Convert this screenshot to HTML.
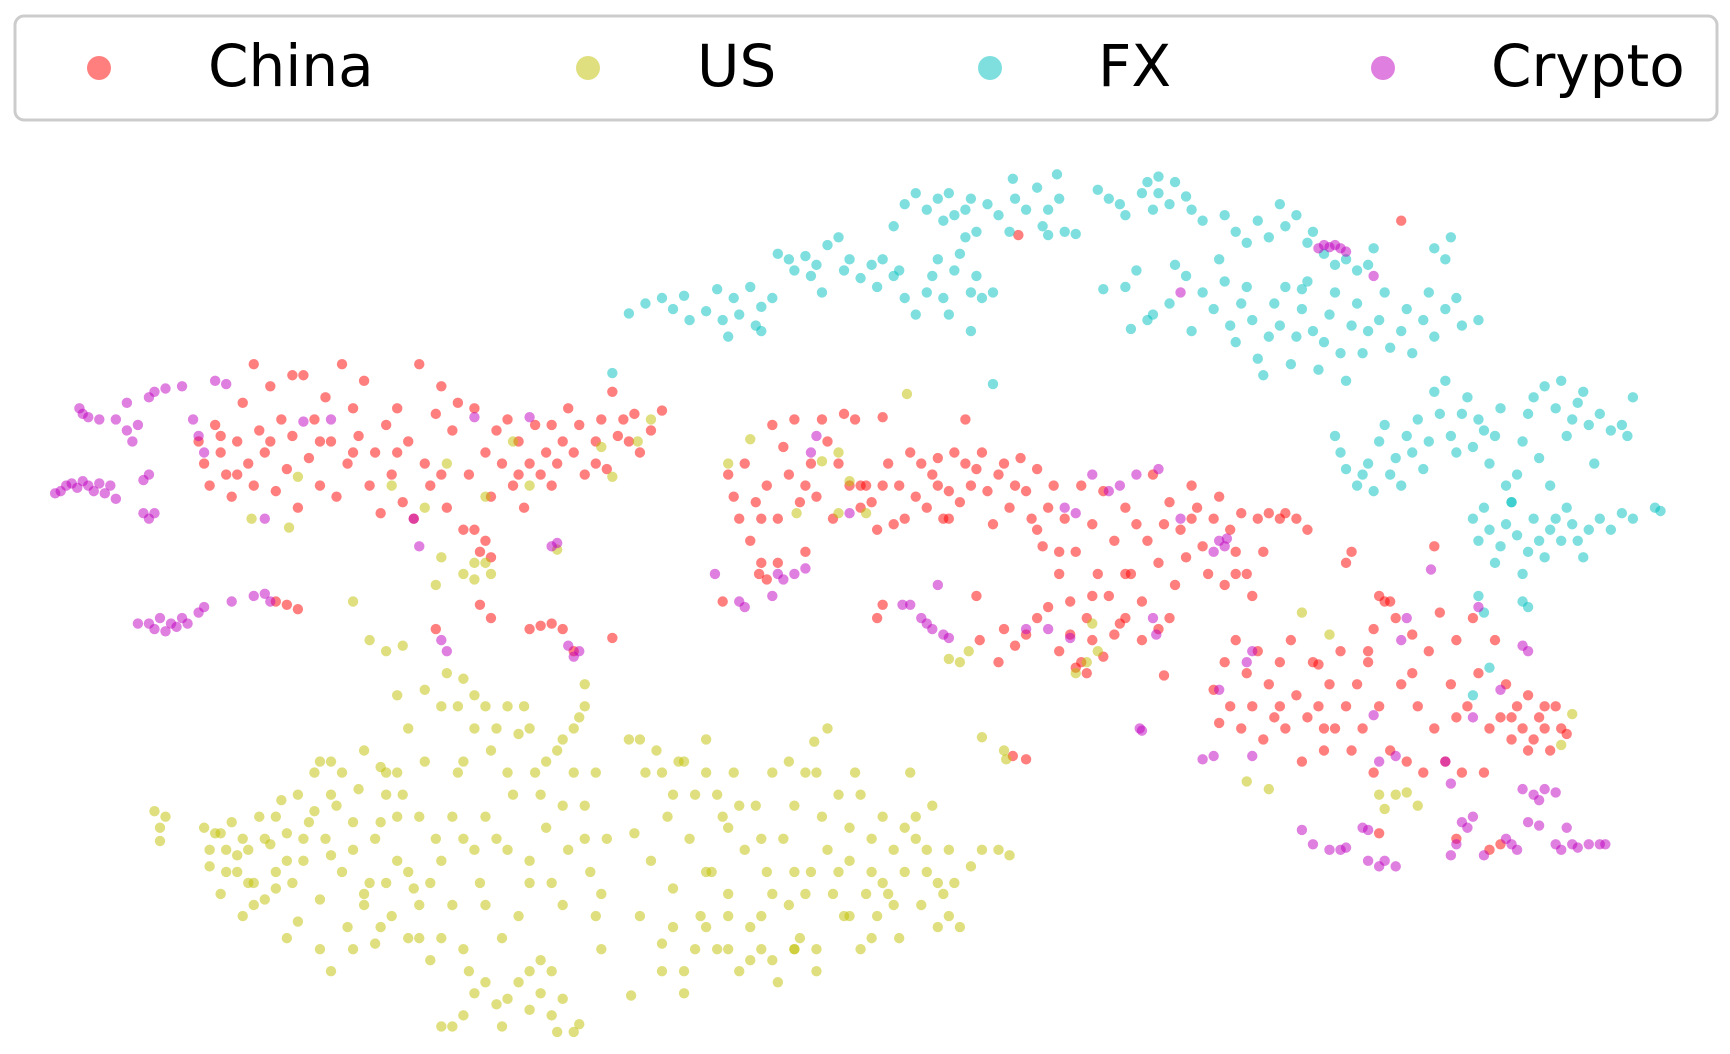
<!DOCTYPE html>
<html><head><meta charset="utf-8"><style>
html,body{margin:0;padding:0;background:#fff;}
svg{display:block;}
text{font-family:"DejaVu Sans","Liberation Sans",sans-serif;}
</style></head><body>
<svg id="chart" width="1730" height="1054" viewBox="0 0 1730 1054" xmlns="http://www.w3.org/2000/svg">
<g id="plot"></g>
<g id="legend">
<rect x="15" y="16" width="1702" height="104" rx="9" fill="#fff" fill-opacity="0.8" stroke="#cccccc" stroke-width="3"/>
<circle cx="99" cy="68" r="12" fill="#ff0000" fill-opacity="0.5"/>
<text x="208" y="86" font-size="58">China</text>
<circle cx="588" cy="68" r="12" fill="#bfbf00" fill-opacity="0.5"/>
<text x="697" y="86" font-size="58">US</text>
<circle cx="990" cy="68" r="12" fill="#00bfbf" fill-opacity="0.5"/>
<text x="1098" y="86" font-size="58">FX</text>
<circle cx="1383" cy="68" r="12" fill="#bf00bf" fill-opacity="0.5"/>
<text x="1491" y="86" font-size="58">Crypto</text>
</g>
</svg>
<script>
const categories = ["China","US","FX","Crypto"];
const chinaPts = "180,400 185,420 190,440 195,385 200,410 205,430 210,450 215,400 220,365 225,420 230,440 235,390 240,410 245,350 250,445 255,380 260,425 265,395 270,460 275,340 280,415 285,380 290,440 295,360 300,400 305,450 310,330 315,420 320,370 325,395 330,345 335,440 340,410 345,465 350,385 355,430 360,370 365,455 370,400 375,470 380,330 385,420 390,440 395,375 400,350 405,460 410,390 415,365 420,480 425,430 430,370 435,500 440,410 445,450 450,390 455,420 460,380 465,440 470,400 475,460 480,420 485,385 490,430 495,410 500,385 505,420 510,400 515,370 520,410 525,385 530,430 540,400 545,380 550,425 555,355 560,395 565,380 570,400 575,375 580,410 590,390 600,372 430,480 440,490 445,505 395,570 250,545 260,548 270,552 435,548 445,560 480,570 490,567 500,565 510,570 520,590 555,578 265,340 230,330 660,430 665,450 670,470 675,420 680,490 685,455 690,510 695,440 700,385 705,470 710,405 715,430 720,380 725,455 730,500 735,420 740,450 745,380 750,400 755,470 760,420 765,375 770,440 775,380 780,460 785,440 790,455 795,480 800,440 805,420 810,475 815,440 820,470 825,410 830,450 835,420 840,460 845,430 850,415 855,470 860,445 865,410 870,455 875,420 880,440 885,425 890,410 895,445 900,475 905,430 910,420 915,460 920,440 925,415 930,445 935,470 940,425 945,495 950,460 955,440 960,520 965,470 970,545 975,500 980,440 985,560 990,475 995,520 1000,445 1005,540 1010,490 1015,565 1020,460 1025,520 1030,475 1035,545 1040,490 1045,430 1050,510 1055,475 1060,455 1065,530 1070,480 1075,505 1080,440 1085,460 1090,495 1095,520 1100,470 1105,450 1110,530 1115,480 1120,500 1125,465 1130,520 1135,540 1140,470 1145,500 1150,465 1160,470 1165,465 1175,470 1185,480 910,570 920,585 930,575 940,560 950,550 960,590 970,575 980,600 990,580 1000,595 1010,575 1020,560 1035,580 1050,570 1060,560 1055,612 975,605 985,610 905,600 800,548 795,560 885,540 888,580 930,688 918,685 1270,200 923,213 705,510 695,525 655,545 688,520 800,378 875,380 1100,625 1105,655 1110,600 1115,640 1120,580 1125,660 1130,610 1135,640 1140,590 1145,670 1150,620 1155,650 1160,600 1165,660 1170,580 1175,630 1180,690 1185,650 1190,600 1195,640 1200,680 1205,620 1210,660 1215,590 1220,640 1225,680 1230,620 1235,660 1240,590 1245,700 1250,640 1255,545 1260,680 1265,560 1270,620 1275,690 1280,575 1285,640 1290,700 1295,590 1300,660 1305,555 1310,690 1315,620 1320,580 1325,700 1330,640 1335,560 1340,610 1345,700 1350,660 1355,580 1360,650 1365,620 1370,670 1375,640 1380,660 1385,630 1390,670 1395,650 1400,660 1405,680 1410,640 1415,660 1420,665 1385,680 1350,770 1360,765 1300,495 1220,510 1225,500 1250,755 1320,760 1250,540 1260,545 1240,600 1195,602 1245,570 200,395 215,430 245,400 290,400 320,410 360,410 400,430 470,430 500,440 540,420 690,470 730,440 780,440 850,440 860,470 940,480 960,500 990,540 1020,520 1080,470 1120,520 1160,640 1200,660 1280,610 1320,650 1370,650 1400,640";
const usPts = "140,735 145,750 145,762 185,750 190,785 195,755 200,810 205,770 210,745 215,790 220,830 225,770 230,800 235,740 240,815 245,765 250,790 255,725 260,755 265,800 270,835 275,780 280,745 285,700 290,815 295,760 300,690 305,730 310,790 315,840 320,770 325,715 330,680 335,800 340,855 345,745 350,700 355,830 360,780 365,720 370,660 375,805 380,740 385,690 390,870 395,760 400,640 405,610 410,820 415,700 420,760 425,880 430,630 435,800 440,740 445,680 450,910 455,850 460,770 465,720 470,890 475,640 480,800 485,700 490,870 495,750 500,920 505,680 510,820 515,770 520,935 525,650 530,730 535,790 540,700 545,810 550,760 410,930 420,920 455,930 480,915 505,935 525,928 470,665 440,640 495,690 360,630 385,625 420,615 530,640 350,590 335,580 365,585 395,530 420,520 440,510 400,505 430,525 572,902 570,670 575,755 580,830 585,700 590,780 595,680 600,855 605,740 610,805 615,690 620,880 625,760 630,720 635,830 640,670 645,790 650,860 655,740 660,810 665,700 670,880 675,770 680,840 685,730 690,860 695,790 700,700 705,890 710,760 715,820 720,730 725,850 730,700 735,790 740,860 745,740 750,660 755,810 760,720 765,830 770,780 775,700 780,860 785,810 790,760 795,830 800,740 805,810 810,770 815,850 820,790 825,700 830,760 835,820 840,790 845,730 850,840 855,810 860,770 865,800 870,840 880,785 890,770 905,770 915,775 320,545 345,695 890,668 910,680 912,688 860,597 870,600 878,590 822,357 738,672 715,690 1130,708 1150,715 1250,720 1255,733 1265,720 1275,718 1285,730 1205,575 1180,555 990,565 995,590 985,600 975,610 680,398 745,418 770,436 760,410 722,465 760,465 785,465 1425,647 1415,675 660,420 270,432 262,478 228,470 355,440 385,460 405,420 440,450 480,440 505,498 430,510 445,520 465,400 555,432 578,400 590,380 545,405 150,740 190,770 200,755 215,775 225,800 240,760 250,805 260,780 275,760 285,735 290,690 300,775 310,700 320,745 330,820 340,760 350,800 360,740 370,790 380,820 390,800 400,780 410,740 420,690 430,770 440,820 450,760 460,700 470,830 480,780 490,720 500,800 510,730 520,700 530,760 540,830 545,860 380,850 400,850 420,860 430,900 440,890 460,905 480,880 490,900 500,880 510,905 400,930 415,640 430,660 450,660 460,640 480,660 510,670 520,660 530,620 350,720 360,700 300,720 270,720 250,740 220,760 205,790 230,820 260,850 290,860 320,860 345,840 370,850 300,880 330,810 580,670 600,700 610,720 620,690 640,700 650,720 660,750 670,730 690,760 700,810 720,790 740,700 750,770 760,790 770,750 780,720 790,790 800,800 810,820 820,750 830,740 840,770 850,800 860,830 610,840 630,860 640,840 660,860 680,870 700,870 720,860 740,880 600,880 620,900 640,790 660,830 690,830 720,860 730,810 770,830 790,850";
const fxPts = "570,284 585,275 600,270 610,280 620,268 625,290 640,282 650,262 655,290 660,305 665,270 670,285 680,260 685,295 690,278 700,270 690,300 705,230 715,235 720,245 730,232 735,250 745,265 740,240 750,222 760,215 765,245 770,235 780,252 790,240 800,235 795,260 810,250 815,245 820,270 830,285 840,265 845,250 850,235 855,270 860,285 865,245 870,230 875,215 880,265 885,250 890,270 900,265 880,300 810,205 820,185 830,175 840,190 850,180 855,200 860,175 865,195 875,190 880,180 885,210 895,185 905,195 915,210 920,180 930,190 940,170 945,205 950,190 960,180 965,210 975,212 918,162 958,158 950,213 995,172 1005,180 1015,185 1020,195 1035,175 1040,165 1045,190 1050,175 1060,185 1065,165 1075,178 1080,190 1090,200 1050,160 1000,262 1020,260 1030,245 1040,290 1025,298 1045,285 1060,275 1065,240 1075,250 1080,300 1090,265 1100,280 1105,235 1110,255 1115,295 1120,310 1125,275 1130,260 1135,290 1140,325 1145,340 1150,305 1155,275 1160,295 1165,260 1170,330 1175,305 1180,280 1185,255 1190,300 1195,335 1200,310 1205,285 1210,265 1215,320 1220,345 1225,295 1230,275 1235,320 1240,300 1250,290 1255,265 1260,315 1270,300 1275,280 1280,320 1290,290 1295,265 1300,305 1310,280 1320,270 1325,295 1340,290 1110,195 1120,210 1130,220 1140,200 1150,215 1160,185 1165,205 1175,195 1185,220 1190,210 1200,230 1210,240 1220,235 1230,245 1240,240 1245,225 1180,262 1300,225 1310,235 1315,215 900,348 555,338 1210,395 1215,410 1220,425 1230,440 1235,430 1240,420 1245,445 1250,400 1255,385 1260,430 1265,415 1270,440 1275,395 1280,410 1285,380 1290,425 1295,400 1300,355 1305,375 1310,345 1315,395 1320,410 1325,375 1330,360 1335,405 1340,380 1345,390 1350,420 1355,395 1360,370 1365,440 1370,455 1375,430 1380,400 1385,375 1390,360 1395,415 1400,350 1405,440 1410,370 1415,345 1420,395 1425,380 1430,365 1435,355 1440,385 1445,420 1450,375 1460,390 1470,385 1475,395 1480,360 1335,470 1340,490 1345,460 1350,480 1355,510 1360,495 1365,475 1370,455 1375,485 1380,520 1385,500 1390,470 1395,490 1400,505 1405,480 1410,470 1415,490 1420,460 1425,475 1430,490 1435,505 1440,480 1450,470 1460,480 1470,465 1480,470 1500,460 1505,463 1380,545 1385,550 1340,540 1345,555 1350,605 1335,630";
const cryptoPts = "50,447 55,445 60,440 65,438 70,442 75,436 80,440 85,445 90,438 95,447 100,440 105,452 72,370 75,375 80,378 90,380 105,380 115,365 115,390 120,400 125,385 135,360 140,355 150,352 165,350 175,380 180,395 185,410 195,345 205,348 130,435 135,430 130,465 135,470 140,465 125,565 135,565 140,570 145,560 150,572 155,565 160,568 165,560 170,565 180,555 185,550 210,545 230,540 240,538 245,545 400,580 405,590 515,585 520,595 525,590 500,495 505,492 380,495 375,470 240,470 300,380 275,382 430,378 480,378 648,520 670,545 675,550 700,540 705,520 710,525 720,520 730,515 770,465 735,410 740,395 818,548 825,548 835,560 840,565 845,570 855,575 860,578 965,460 975,465 990,430 1005,445 1015,440 1030,430 1050,425 1070,470 1100,500 1105,490 1110,495 1112,488 1035,662 1033,660 1090,688 1100,685 1135,685 1135,590 1130,600 1105,625 1195,225 1200,222 1205,224 1210,222 1215,225 1220,228 1070,265 1245,250 1297,516 1340,550 1380,585 1385,590 1360,625 1335,650 1245,648 1250,690 1265,685 1310,690 1315,710 1380,715 1390,720 1395,725 1400,715 1410,718 1385,745 1395,748 1180,752 1190,765 1205,770 1215,770 1220,768 1235,750 1240,752 1240,780 1250,785 1255,780 1265,785 1315,775 1320,765 1325,745 1330,750 1335,740 1345,775 1365,760 1370,765 1375,770 1410,765 1415,770 1420,750 1425,765 1430,768 1440,765 1450,765 1455,765 1270,580 1275,560 1045,560 1048,575 970,578 950,570 930,570 850,530";
const seriesColors = ["#ff0000","#bfbf00","#00bfbf","#bf00bf"];

function xScale(v){ return v * 1730 / 1568; }
function yScale(v){ return v * 1054 / 955; }
function parsePts(s){ return s.trim().split(/\s+/).map(p => p.split(',').map(Number)); }

const plot = document.getElementById('plot');
const NS = "http://www.w3.org/2000/svg";
[chinaPts, usPts, fxPts, cryptoPts].forEach((str, si) => {
  const g = document.createElementNS(NS, 'g');
  
  
  parsePts(str).forEach(([x, y]) => {
    const c = document.createElementNS(NS, 'circle');
    
    
    c.setAttribute('cx', xScale(x));
    c.setAttribute('cy', yScale(y));
    c.setAttribute('r', 5.2);
    c.setAttribute('fill', seriesColors[si]);
    c.setAttribute('fill-opacity', 0.5);
    g.appendChild(c);
  });
  plot.appendChild(g);
});
</script>
</body></html>
